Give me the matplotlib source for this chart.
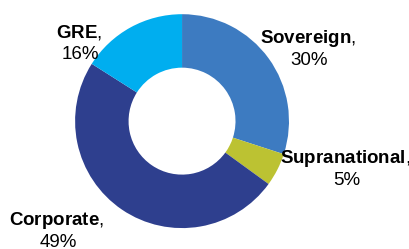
import matplotlib
matplotlib.use("Agg")
import matplotlib.pyplot as plt

plt.rcParams["font.family"] = ["Liberation Sans", "DejaVu Sans"]
plt.rcParams["mathtext.fontset"] = "custom"
plt.rcParams["mathtext.bf"] = "Liberation Sans:bold"
plt.rcParams["mathtext.rm"] = "Liberation Sans"

categorias = ["Sovereign", "Supranational", "Corporate", "GRE"]
porcentajes = [30, 5, 49, 16]
colores = ["#3D7BC1", "#BCC232", "#2E3F8E", "#00AEEF"]

# posiciones de las etiquetas (fraccion de figura, centro de la primera linea)
pos_etiquetas = [(0.752, 0.845), (0.842, 0.365), (0.139, 0.116), (0.192, 0.87)]

fig = plt.figure(figsize=(4.10, 2.49), dpi=100)
ax = fig.add_axes([0.183, 0.084, 0.522, 0.859])
ax.pie(porcentajes, colors=colores, startangle=90, counterclock=False,
       radius=1, wedgeprops=dict(width=0.5, edgecolor="none"))
ax.set_xlim(-1, 1)
ax.set_ylim(-1, 1)
ax.set_aspect("equal")
ax.axis("off")

for nombre, valor, (x, y) in zip(categorias, porcentajes, pos_etiquetas):
    fig.text(x, y, r"$\mathbf{" + nombre + "}$,", fontsize=13.5,
             ha="center", va="center", color="black")
    fig.text(x + 0.003, y - 0.088, str(valor) + "%", fontsize=13.5,
             ha="center", va="center", color="black")

fig.savefig("out.png", dpi=100)
